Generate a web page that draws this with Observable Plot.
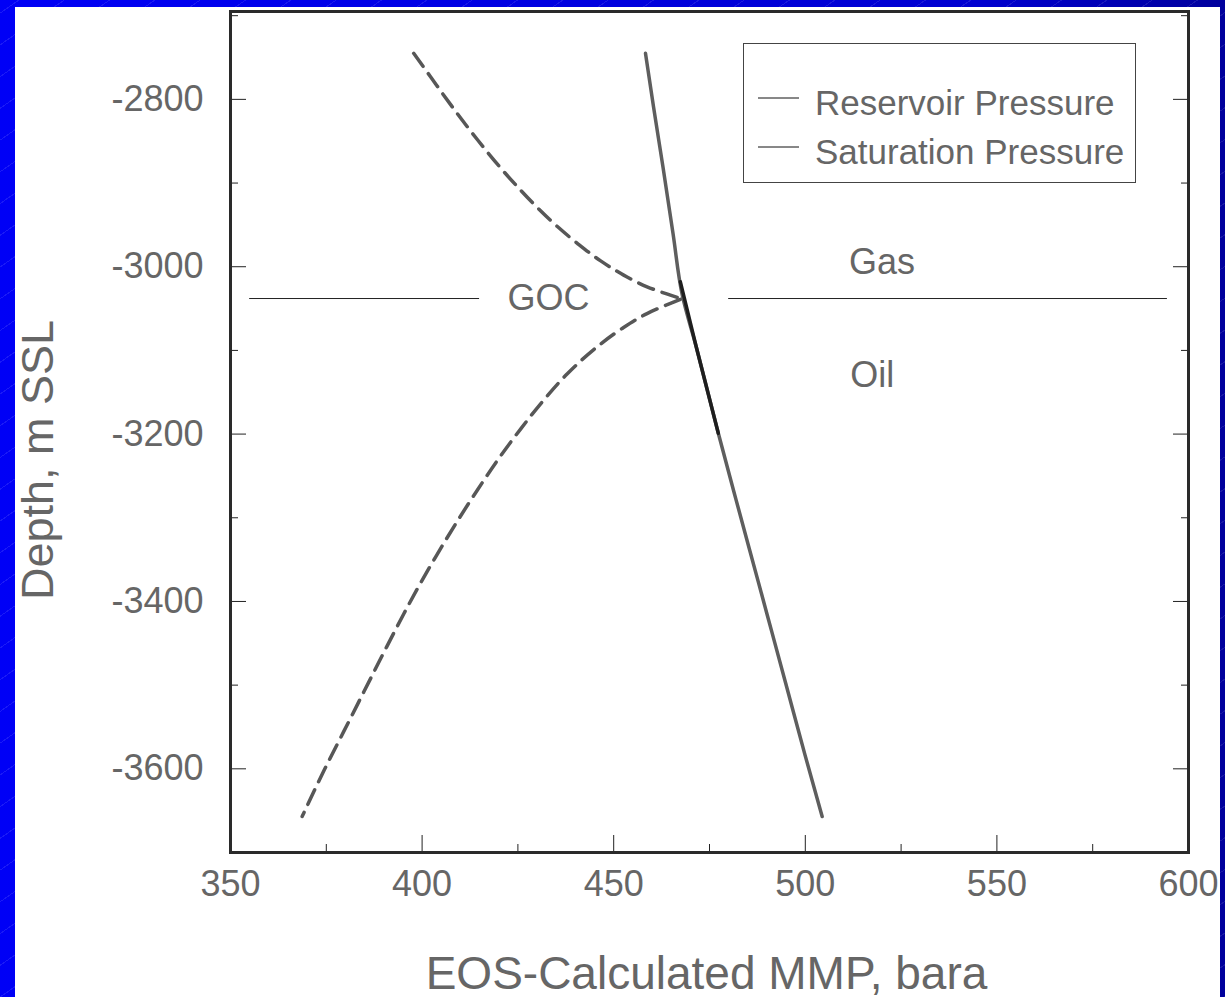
<!DOCTYPE html>
<html>
<head>
<meta charset="utf-8">
<script src="https://cdn.jsdelivr.net/npm/d3@7"></script>
<script src="https://cdn.jsdelivr.net/npm/@observablehq/plot@0.6"></script>
<style>
  html, body { margin: 0; padding: 0; }
  body {
    width: 1225px; height: 997px; overflow: hidden; position: relative;
    background-color: #0000e8;
    background-image:
      repeating-linear-gradient(-35deg, rgba(255,255,255,0.10) 0 1px, transparent 1px 26px),
      linear-gradient(to right, #0000f6, #0000d0 80%, #00009c);
    font-family: "Liberation Sans", Arial, sans-serif;
  }
  #panel { position: absolute; left: 15px; top: 7px; width: 1205px; height: 990px; background: #fff; }
  #chart { position: absolute; left: 0; top: 0; }
  #legend { position: absolute; left: 728px; top: 36px; }
</style>
</head>
<body>
<div id="panel">
  <div id="chart"></div>
  <div id="legend"></div>
</div>
<script>
// Axis ticks
const xTicks = [350, 400, 450, 500, 550, 600];
const xMinorTicks = [375, 425, 475, 525, 575];
const yTicks = [-2800, -3000, -3200, -3400, -3600];
const yMinorTicks = [-2700, -2900, -3100, -3300, -3500];

// Reservoir pressure profile (MMP, bara vs depth, m SSL)
const reservoirP     = [458.3, 460.4, 462.9, 465.5, 467.9, 471.5, 477.3, 481.9, 487.7, 491.3, 494.9, 499.9, 504.4];
const reservoirDepth = [-2745, -2809, -2882, -2961, -3034, -3095, -3199, -3278, -3376, -3437, -3498, -3583, -3657];

// Overlapping segment just below the contact
const overlapP     = [467.4, 471.5, 477.3];
const overlapDepth = [-3018, -3095, -3199];

// Saturation pressure, gas cap (above GOC)
const satGasP     = [397.8, 402.2, 407.4, 414.4, 420.5, 424.8, 430.0, 435.3, 440.5, 446.6, 452.6, 458.7, 464.8, 467.4];
const satGasDepth = [-2745, -2773, -2806, -2848, -2882, -2904, -2929, -2952, -2972, -2993, -3010, -3024, -3034, -3038];

// Saturation pressure, oil leg (below GOC)
const satOilP     = [467.4, 458.7, 451.8, 444.8, 437.9, 431.8, 425.7, 420.5, 414.4, 409.2, 403.9, 399.6, 395.2, 390.0, 384.8, 379.6, 374.3, 368.7];
const satOilDepth = [-3039, -3056, -3075, -3099, -3128, -3159, -3194, -3226, -3267, -3304, -3344, -3378, -3415, -3461, -3508, -3555, -3603, -3657];

// Gas-oil contact
const gocDepth = -3038;
const gocSegments = [[355, 415], [480, 594.5]];

// Annotations
const noteText = ["GOC", "Gas", "Oil"];
const noteX    = [433, 520, 517.5];
const noteY    = [-3038, -2995, -3130];

const legendNames = ["Reservoir Pressure", "Saturation Pressure"];

const series = (xs, ys) => xs.map((x, i) => ({x, y: ys[i]}));
const gray = "#666";
const plain = d => d === "" ? "" : String(d);

const chart = Plot.plot({
  width: 1205,
  height: 990,
  marginLeft: 215,
  marginRight: 32,
  marginTop: 4,
  marginBottom: 145,
  style: {fontFamily: "'Liberation Sans', Arial, sans-serif", background: "transparent", overflow: "visible"},
  x: {domain: [350, 600]},
  y: {domain: [-3700, -2695]},
  marks: [
    // tick labels
    Plot.axisX(xTicks, {anchor: "bottom", tickSize: 0, tickPadding: 18, fontSize: 36, color: gray, tickFormat: plain, label: null}),
    Plot.axisY(yTicks, {anchor: "left", tickSize: 0, tickPadding: 27, fontSize: 36, color: gray, tickFormat: plain, label: null}),
    // inward tick marks
    Plot.axisX(xTicks, {anchor: "bottom", tickSize: -17, tickFormat: () => "", color: "#222", label: null}),
    Plot.axisX(xMinorTicks, {anchor: "bottom", tickSize: -8, tickFormat: () => "", color: "#222", label: null}),
    Plot.axisY(yTicks, {anchor: "left", tickSize: -16, tickFormat: () => "", color: "#222", label: null}),
    Plot.axisY(yMinorTicks, {anchor: "left", tickSize: -8, tickFormat: () => "", color: "#222", label: null}),
    Plot.axisY(yTicks, {anchor: "right", tickSize: -16, tickFormat: () => "", color: "#222", label: null}),
    Plot.axisY(yMinorTicks, {anchor: "right", tickSize: -8, tickFormat: () => "", color: "#222", label: null}),
    // axis titles
    Plot.text(["EOS-Calculated MMP, bara"], {text: d => d, frameAnchor: "bottom", textAnchor: "middle", dx: -3, dy: 136, lineAnchor: "bottom", fontSize: 46, fill: gray}),
    Plot.text(["Depth, m SSL"], {text: d => d, frameAnchor: "left", textAnchor: "middle", rotate: -90, dx: -178, dy: 28, lineAnchor: "bottom", fontSize: 45, fill: gray}),
    // gas-oil contact
    Plot.ruleY(gocSegments, {y: () => gocDepth, x1: d => d[0], x2: d => d[1], stroke: "#222", strokeWidth: 1}),
    Plot.text(noteText, {text: d => d, x: (d, i) => noteX[i], y: (d, i) => noteY[i], fontSize: 36, fill: gray}),
    // curves
    Plot.line(series(reservoirP, reservoirDepth), {x: "x", y: "y", stroke: "#5e5e5e", strokeWidth: 3.5, curve: "monotone-y"}),
    Plot.line(series(overlapP, overlapDepth), {x: "x", y: "y", stroke: "#1e1e1e", strokeWidth: 3.5, curve: "monotone-y"}),
    Plot.line(series(satGasP, satGasDepth), {x: "x", y: "y", stroke: "#575757", strokeWidth: 3.5, strokeDasharray: "16,9", curve: "monotone-y"}),
    Plot.line(series(satOilP, satOilDepth), {x: "x", y: "y", stroke: "#575757", strokeWidth: 3.5, strokeDasharray: "16,9", curve: "monotone-y"}),
    Plot.frame({stroke: "#2a2a2a", strokeWidth: 3})
  ]
});
document.getElementById("chart").appendChild(chart);

// Legend box
const lg = d3.select("#legend").append("svg")
  .attr("width", 394).attr("height", 141)
  .style("font-family", "'Liberation Sans', Arial, sans-serif");
lg.append("rect").attr("x", 0.5).attr("y", 0.5).attr("width", 392).attr("height", 139)
  .attr("fill", "white").attr("stroke", "#444").attr("stroke-width", 1);
const item = lg.selectAll("g.item").data(legendNames).join("g")
  .attr("class", "item")
  .attr("transform", (d, i) => `translate(0,${55 + i * 49})`);
item.append("line").attr("x1", 15).attr("x2", 56).attr("y1", 0).attr("y2", 0)
  .attr("stroke", "#111").attr("stroke-width", 1);
item.append("text").attr("x", 72).attr("y", 17).attr("font-size", 35).attr("fill", gray)
  .text(d => d);
</script>
</body>
</html>
